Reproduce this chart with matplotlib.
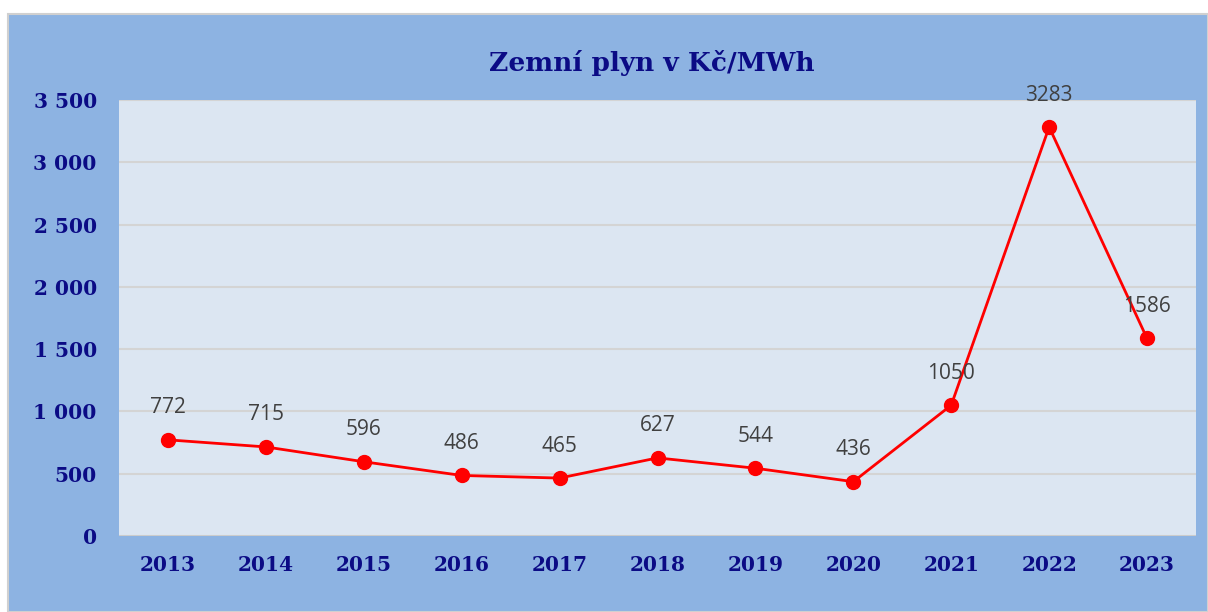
import numpy as np
import matplotlib.pyplot as plt
from matplotlib.patches import Rectangle

years = ['2013', '2014', '2015', '2016', '2017', '2018', '2019', '2020', '2021', '2022', '2023']
prices = [772, 715, 596, 486, 465, 627, 544, 436, 1050, 3283, 1586]
yticks = [0, 500, 1000, 1500, 2000, 2500, 3000, 3500]
title = 'Zemní plyn v Kč/MWh'

navy = '#0b0b85'
W, H = 1208, 612

fig = plt.figure(figsize=(W / 100, H / 100), dpi=100)
# blue chart background behind the axes
fig.patches.append(Rectangle((8 / W, 0), 1 - 8 / W, 1 - 14 / H, transform=fig.transFigure,
                             facecolor='#8db3e2', edgecolor='#d0d0d0', linewidth=1.5, zorder=-5))

ax = fig.add_axes([119 / W, (H - 536) / H, (1196 - 119) / W, 436 / H])
ax.set_facecolor('#dce6f2')
x = np.arange(len(years))
ax.plot(x, prices, color='red', linewidth=2, marker='o', markersize=10, zorder=3)
for xi, v in zip(x, prices):
    ax.annotate(str(v), (xi, v), xytext=(0, 23), textcoords='offset points',
                ha='center', va='center', fontsize=15, color='#404040', family='Open Sans')

ax.set_xlim(-0.5, len(years) - 0.5)
ax.set_ylim(0, 3500)
ax.set_yticks(yticks)
ax.set_yticklabels([f'{v:,}'.replace(',', ' ') for v in yticks])
ax.set_xticks(x)
ax.set_xticklabels(years)
for lab in ax.get_xticklabels() + ax.get_yticklabels():
    lab.set_family('DejaVu Serif')
    lab.set_fontweight('heavy')
    lab.set_fontsize(14.5)
    lab.set_color(navy)
ax.tick_params(length=0)
ax.tick_params(axis='y', pad=16)
ax.tick_params(axis='x', pad=14)
ax.grid(axis='y', color='#d4d4d4', linewidth=1.5)
ax.set_axisbelow(True)
for s in ax.spines.values():
    s.set_visible(False)
ax.axhline(0, color='#cccccc', linewidth=2, zorder=2)

fig.text(652 / W, 1 - 63 / H, title, ha='center', va='center', fontsize=19,
         fontweight='bold', family='DejaVu Serif', color=navy)

fig.savefig('out.png', dpi=100)
